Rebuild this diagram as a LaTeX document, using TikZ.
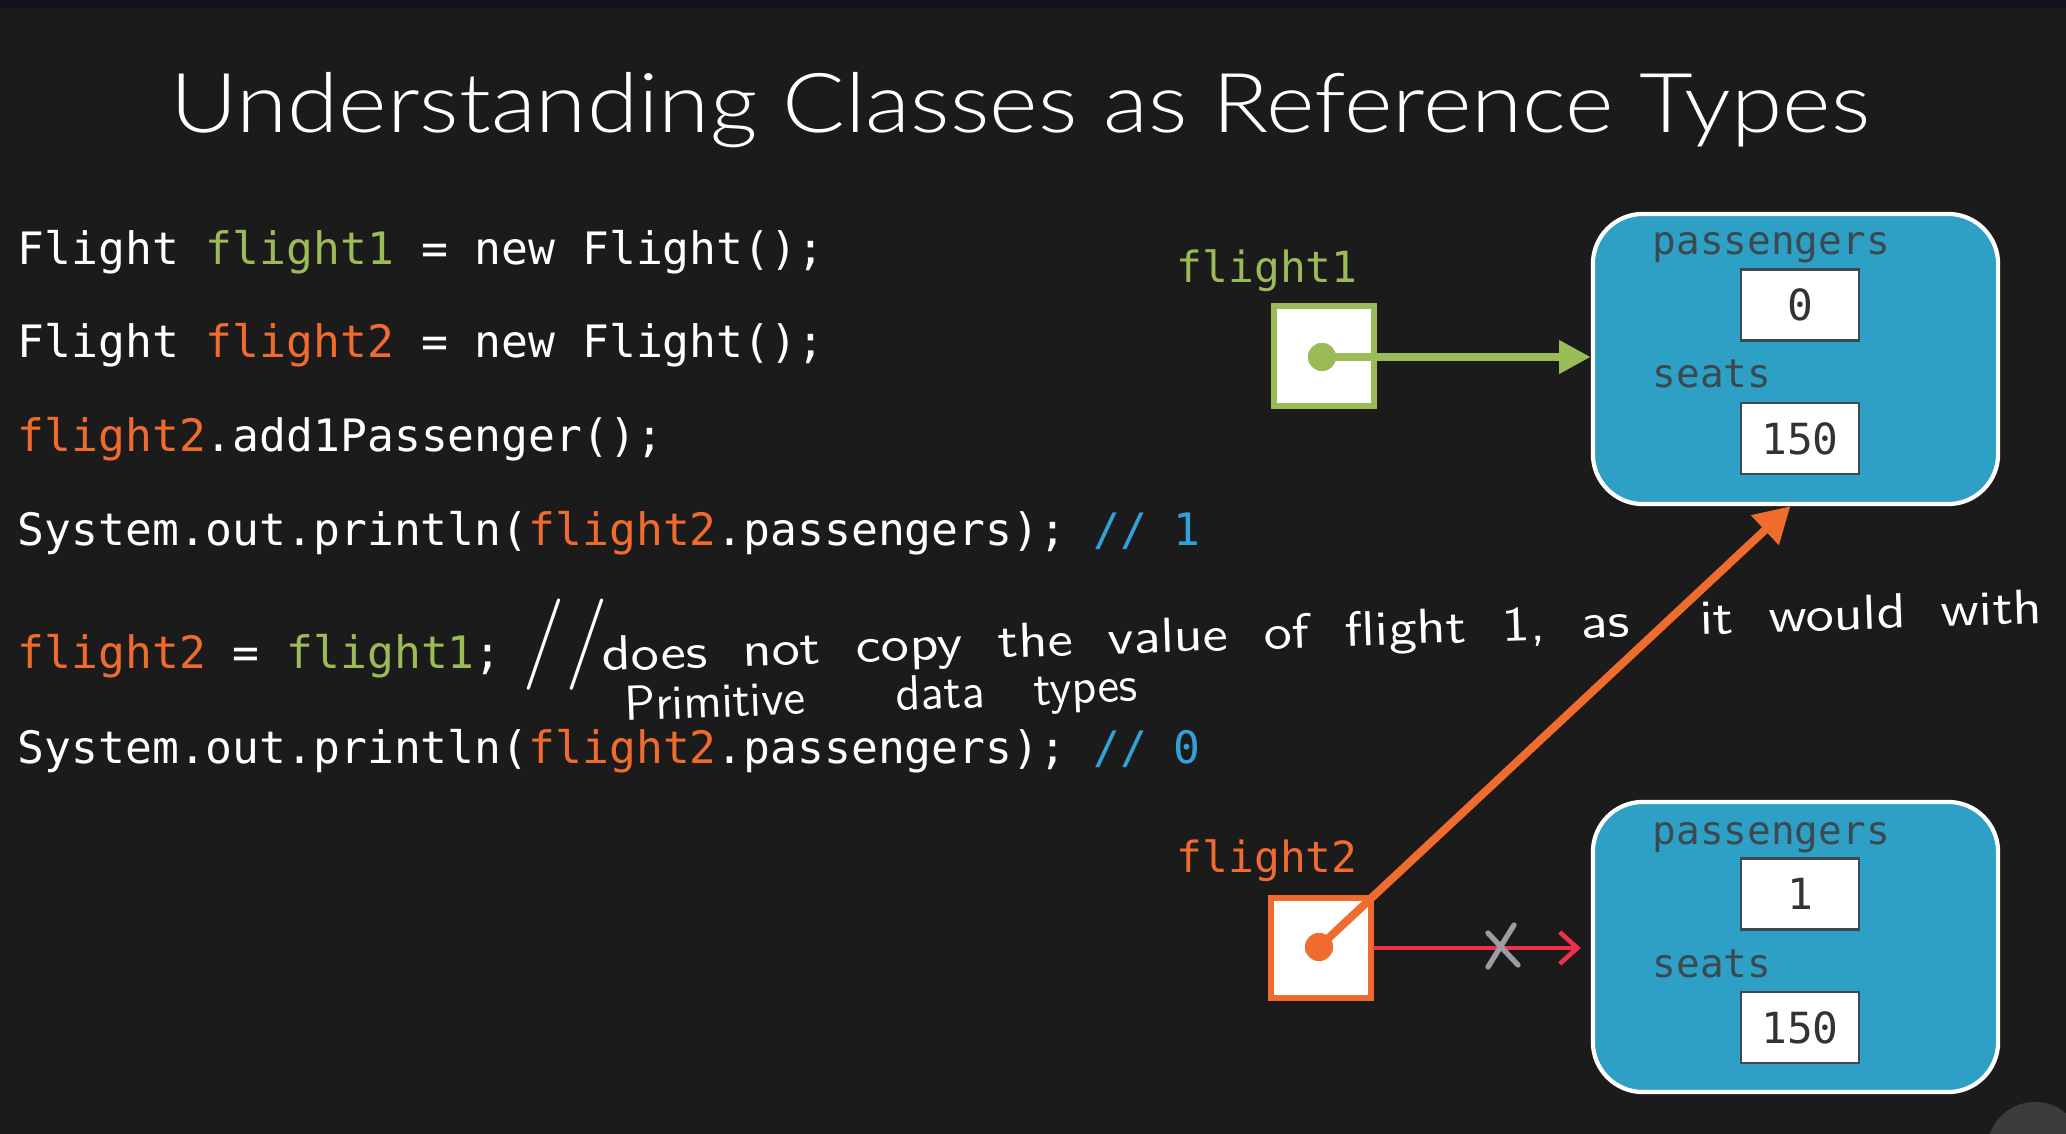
\documentclass[tikz,border=0pt]{standalone}
\usepackage{fontspec}
\usepackage{graphicx}
\usetikzlibrary{arrows.meta}
\newfontfamily\codefont{DejaVu Sans Mono}
\newfontfamily\titlefont{Lato Light}
\newcommand{\widespaces}[1]{\spaceskip=#1 plus 0pt minus 0pt\relax}
\definecolor{bg}{HTML}{1B1B1B}
\definecolor{strip}{HTML}{101217}
\definecolor{fgreen}{HTML}{9BBB59}
\definecolor{forange}{HTML}{F06B2E}
\definecolor{cmtblue}{HTML}{33A1D6}
\definecolor{objblue}{HTML}{2E9FC5}
\definecolor{fieldtxt}{HTML}{3A4A50}
\definecolor{xred}{HTML}{F0304A}
\definecolor{xgray}{HTML}{9C9DA3}
\definecolor{btn}{HTML}{3C3C3C}
\begin{document}
\begin{tikzpicture}[x=0.01cm,y=-0.01cm,
  code/.style={anchor=base west,inner sep=0pt,text=white,
    font=\codefont\fontsize{12.7pt}{15pt}\selectfont},
  varlabel/.style={anchor=base west,inner sep=0pt,
    font=\codefont\fontsize{12.2pt}{15pt}\selectfont},
  fieldlabel/.style={anchor=base west,inner sep=0pt,text=fieldtxt,
    font=\codefont\fontsize{11.2pt}{14pt}\selectfont},
  valbox/.style={draw=fieldtxt,line width=0.6pt,fill=white,
    minimum width=1.18cm,minimum height=0.71cm,inner sep=0pt,
    text=black!80,font=\codefont\fontsize{12.2pt}{15pt}\selectfont},
  objbox/.style={draw=white,line width=1.2pt,fill=objblue,
    rounded corners=0.5cm,minimum width=4.05cm,minimum height=2.9cm},
  refbox/.style={fill=white,line width=1.9pt,minimum width=1.0cm,
    minimum height=1.0cm,inner sep=0pt},
  dot/.style={circle,inner sep=0pt,minimum size=0.28cm},
  hand/.style={anchor=base west,inner sep=0pt,text=white,
    font=\sffamily\fontsize{14pt}{16pt}\selectfont},
]
% canvas
\fill[bg] (0,0) rectangle (2066,1134);
\fill[strip] (0,0) rectangle (2066,8);
\useasboundingbox (0,0) rectangle (2066,1134);
\begin{scope}
  \clip (0,0) rectangle (2066,1134);
  \fill[btn] (2035,1150) circle[radius=0.48cm];
\end{scope}

% heading
\node[anchor=base,inner sep=0pt,text=white,
  font=\titlefont\fontsize{23.5pt}{28pt}\selectfont] (title) at (1020,133)
  {\scalebox{1.124}[1]{Understanding Classes as Reference Types}};

% source code
\node[code] (c1) at (17,265) {Flight \textcolor{fgreen}{flight1} = new Flight();};
\node[code] (c2) at (17,358) {Flight \textcolor{forange}{flight2} = new Flight();};
\node[code] (c3) at (17,452) {\textcolor{forange}{flight2}.add1Passenger();};
\node[code] (c4) at (17,546) {System.out.println(\textcolor{forange}{flight2}.passengers); \textcolor{cmtblue}{// 1}};
\node[code] (c5) at (17,669) {\textcolor{forange}{flight2} = \textcolor{fgreen}{flight1};};
\node[code] (c6) at (17,764) {System.out.println(\textcolor{forange}{flight2}.passengers); \textcolor{cmtblue}{// 0}};

% handwritten note
\node[anchor=base west,inner sep=0pt,text=white,
  font=\sffamily\fontsize{26pt}{30pt}\selectfont] (hslash) at (522,668) {//};
\node[hand,rotate=1.9] (h1) at (602,671)
  {\scalebox{1.17}[1]{\widespaces{0.62em}does not copy the value of flight 1, as\kern0.6em{} it would with}};
\node[hand,rotate=2.2] (h2) at (625,721)
  {Primitive\hspace{26pt}data\hspace{14pt}types};

% objects on the heap
\node[objbox] (o1) at (1795.5,359) {};
\node[fieldlabel] (p1) at (1652,255) {passengers};
\node[valbox] (v1) at (1800,305) {0};
\node[fieldlabel] (s1) at (1652,388) {seats};
\node[valbox] (w1) at (1800,438.5) {150};

\node[objbox] (o2) at (1795.5,947) {};
\node[fieldlabel] (p2) at (1652,845) {passengers};
\node[valbox] (v2) at (1800,894) {1};
\node[fieldlabel] (s2) at (1652,978) {seats};
\node[valbox] (w2) at (1800,1027.5) {150};

% reference variables
\node[varlabel,text=fgreen] (l1) at (1176,283) {flight1};
\node[refbox,draw=fgreen] (r1) at (1324,356) {};
\node[varlabel,text=forange] (l2) at (1176,873) {flight2};
\node[refbox,draw=forange] (r2) at (1321,948) {};

\node[dot,fill=fgreen] (d1) at (1322,357) {};
\node[dot,fill=forange] (d2) at (1319,947) {};

% old reference, crossed out
\draw[xred,line width=1.1pt,line cap=round,
  -{Straight Barb[length=5pt,width=9pt,line width=1.3pt]}]
  (r2.east) -- ([xshift=-0.1cm]o2.west |- r2.east);
\draw[xgray,line width=1.5pt,line cap=round] (1514,925) -- (1488,967);
\draw[xgray,line width=1.5pt,line cap=round] (1488,933) -- (1518,965);

% references
\draw[fgreen,line width=2.3pt,-{Triangle[length=9pt,width=9pt]}]
  (d1.center) -- (d1 -| o1.west);
\draw[forange,line width=2.3pt,-{Triangle[length=10pt,width=11pt]}]
  (d2.center) -- ([xshift=-0.05cm]o1.south);
\fill[fgreen] (d1) circle[radius=0.14cm];
\fill[forange] (d2) circle[radius=0.14cm];
\end{tikzpicture}
\end{document}
